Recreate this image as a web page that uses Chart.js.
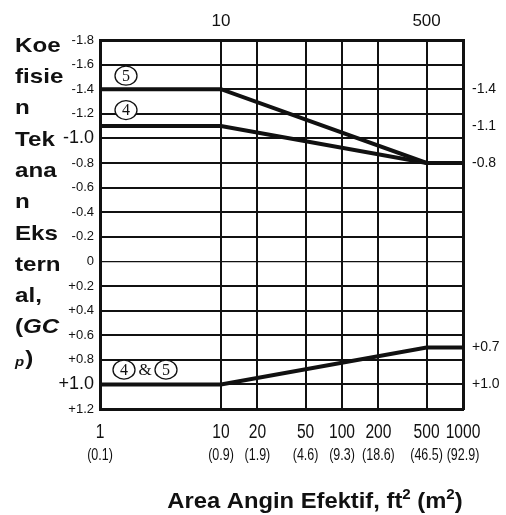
<!DOCTYPE html>
<html>
<head>
<meta charset="utf-8">
<script src="https://cdn.jsdelivr.net/npm/chart.js@4.4.1/dist/chart.umd.min.js"></script>
<style>
  body { margin: 0; background: #fff; }
  #wrap { width: 506px; height: 515px; }
</style>
</head>
<body>
<div id="wrap"><canvas id="gcp-chart" width="506" height="515"></canvas></div>
<script>
// break points of the curves (effective wind area, ft2)
const areaFt = [1, 10, 500, 1000];
const zone5Neg = [-1.4, -1.4, -0.8, -0.8];
const zone4Neg = [-1.1, -1.1, -0.8, -0.8];
const zone45Pos = [1.0, 1.0, 0.7, 0.7];

// ticks
const xTicks = [1, 10, 20, 50, 100, 200, 500, 1000];
const xTickLabels = ['1', '10', '20', '50', '100', '200', '500', '1000'];
const xMetricLabels = ['(0.1)', '(0.9)', '(1.9)', '(4.6)', '(9.3)', '(18.6)', '(46.5)', '(92.9)'];
const xTopTicks = [10, 500];
const xTopLabels = ['10', '500'];
const yTicks = [-1.8, -1.6, -1.4, -1.2, -1.0, -0.8, -0.6, -0.4, -0.2, 0, 0.2, 0.4, 0.6, 0.8, 1.0, 1.2];
const yTickLabels = ['-1.8', '-1.6', '-1.4', '-1.2', '-1.0', '-0.8', '-0.6', '-0.4', '-0.2', '0',
                     '+0.2', '+0.4', '+0.6', '+0.8', '+1.0', '+1.2'];
const yRightTicks = [-1.4, -1.1, -0.8, 0.7, 1.0];
const yRightLabels = ['-1.4', '-1.1', '-0.8', '+0.7', '+1.0'];

const SANS = "'Liberation Sans', Arial, sans-serif";
const SERIF = "'Liberation Serif', 'DejaVu Serif', serif";
const INK = '#111';

function pts(ys) {
  return areaFt.map((x, i) => ({ x: x, y: ys[i] }));
}

function setTicks(list) {
  return scale => { scale.ticks = list.map(v => ({ value: v })); };
}

// text squeezed or stretched horizontally by sx
function drawText(ctx, txt, x, y, font, sx, align) {
  ctx.save();
  ctx.font = font;
  ctx.textAlign = align || 'left';
  ctx.translate(x, y);
  ctx.scale(sx, 1);
  ctx.fillText(txt, 0, 0);
  ctx.restore();
}

function textW(ctx, txt, font, sx) {
  ctx.save();
  ctx.font = font;
  const w = ctx.measureText(txt).width * sx;
  ctx.restore();
  return w;
}

// bottom tick rows, axis titles and circled zone numbers
const labelsPlugin = {
  id: 'labels',
  afterDraw(chart) {
    const ctx = chart.ctx;
    const sx = chart.scales.x, sy = chart.scales.y;
    ctx.save();
    ctx.fillStyle = INK;
    ctx.textBaseline = 'middle';

    // bottom tick labels, narrow
    xTicks.forEach((v, i) => {
      const px = sx.getPixelForValue(v);
      drawText(ctx, xTickLabels[i], px, 432, '20px ' + SANS, 0.78, 'center');
      drawText(ctx, xMetricLabels[i], px, 456, '16px ' + SANS, 0.78, 'center');
    });

    // left title, broken into short lines
    const tf = 'bold 21px ' + SANS;
    const ts = 1.15;
    const lines = ['Koe', 'fisie', 'n', 'Tek', 'ana', 'n', 'Eks', 'tern', 'al,'];
    lines.forEach((t, i) => drawText(ctx, t, 15, 46 + i * 31.3, tf, ts));
    let y = 46 + 9 * 31.3;
    drawText(ctx, '(', 15, y, tf, ts);
    drawText(ctx, 'GC', 15 + textW(ctx, '(', tf, ts), y, 'italic ' + tf, ts);
    y += 31.3;
    drawText(ctx, 'p', 15, y + 3, 'italic bold 13px ' + SANS, ts);
    drawText(ctx, ')', 15 + textW(ctx, 'p', 'italic bold 13px ' + SANS, ts) + 1, y, tf, ts);

    // bottom title with superscripts
    const bf = 'bold 22px ' + SANS, sf = 'bold 14px ' + SANS, bs = 1.08;
    const parts = [['Area Angin Efektif, ft', bf, 0], ['2', sf, -7], [' (m', bf, 0], ['2', sf, -7], [')', bf, 0]];
    const total = parts.reduce((a, p) => a + textW(ctx, p[0], p[1], bs), 0);
    let bx = 315 - total / 2;
    parts.forEach(p => {
      drawText(ctx, p[0], bx, 502 + p[2], p[1], bs);
      bx += textW(ctx, p[0], p[1], bs);
    });

    // circled zone numbers
    ctx.textAlign = 'center';
    function circ(txt, x, yy) {
      ctx.beginPath();
      ctx.ellipse(x, yy, 11, 9.5, 0, 0, Math.PI * 2);
      ctx.lineWidth = 1.3;
      ctx.strokeStyle = INK;
      ctx.fillStyle = '#fff';
      ctx.fill();
      ctx.stroke();
      ctx.fillStyle = INK;
      ctx.font = '16px ' + SERIF;
      ctx.fillText(txt, x, yy + 1);
    }
    const x0 = sx.getPixelForValue(1) + 26;
    circ('5', x0, sy.getPixelForValue(-1.51));
    circ('4', x0, sy.getPixelForValue(-1.23));
    const yb = sy.getPixelForValue(0.88);
    circ('4', x0 - 2, yb);
    ctx.font = '17px ' + SERIF;
    ctx.fillText('&', x0 + 19, yb + 1);
    circ('5', x0 + 40, yb);
    ctx.restore();
  }
};

const lineStyle = {
  borderColor: INK,
  borderWidth: 4,
  pointRadius: 0,
  tension: 0,
  fill: false,
  xAxisID: 'x',
  yAxisID: 'y'
};

function leftTickFont(ctx) {
  const big = ctx.tick && Math.abs(Math.abs(ctx.tick.value) - 1) < 1e-6;
  return { family: SANS, size: big ? 18 : 13 };
}

new Chart(document.getElementById('gcp-chart'), {
  type: 'line',
  data: {
    datasets: [
      Object.assign({ label: 'Zona 5', data: pts(zone5Neg) }, lineStyle),
      Object.assign({ label: 'Zona 4', data: pts(zone4Neg) }, lineStyle),
      Object.assign({ label: 'Zona 4 & 5', data: pts(zone45Pos) }, lineStyle)
    ]
  },
  options: {
    responsive: false,
    animation: false,
    layout: { padding: { left: 0, right: 0, top: 0, bottom: 46 } },
    plugins: { legend: { display: false }, tooltip: { enabled: false } },
    scales: {
      x: {
        type: 'logarithmic', position: 'bottom', min: 1, max: 1000,
        afterBuildTicks: setTicks(xTicks),
        afterFit: s => { s.height = 60; },
        ticks: { display: false, autoSkip: false },
        grid: { color: INK, lineWidth: 2, drawTicks: false },
        border: { color: INK, width: 3 }
      },
      xt: {
        type: 'logarithmic', position: 'top', min: 1, max: 1000,
        afterBuildTicks: setTicks(xTopTicks),
        afterFit: s => { s.height = 40; },
        ticks: {
          autoSkip: false, maxRotation: 0, padding: 8, color: INK,
          font: { family: SANS, size: 17 },
          callback: (v, i) => xTopLabels[i]
        },
        grid: { display: false, drawTicks: false },
        border: { color: INK, width: 3 }
      },
      y: {
        type: 'linear', position: 'left', reverse: true, min: -1.8, max: 1.2,
        afterBuildTicks: setTicks(yTicks),
        afterFit: s => { s.width = 100; },
        ticks: {
          autoSkip: false, padding: 6, color: INK,
          font: leftTickFont,
          callback: (v, i) => yTickLabels[i]
        },
        grid: {
          color: INK, drawTicks: false,
          lineWidth: ctx => (ctx.tick && ctx.tick.value === 0 ? 1.2 : 2)
        },
        border: { color: INK, width: 3 }
      },
      yr: {
        type: 'linear', position: 'right', reverse: true, min: -1.8, max: 1.2,
        afterBuildTicks: setTicks(yRightTicks),
        afterFit: s => { s.width = 43; },
        ticks: {
          autoSkip: false, padding: 9, color: INK,
          font: { family: SANS, size: 14 },
          callback: (v, i) => yRightLabels[i]
        },
        grid: { display: false, drawTicks: false },
        border: { color: INK, width: 3 }
      }
    }
  },
  plugins: [labelsPlugin]
});
</script>
</body>
</html>
